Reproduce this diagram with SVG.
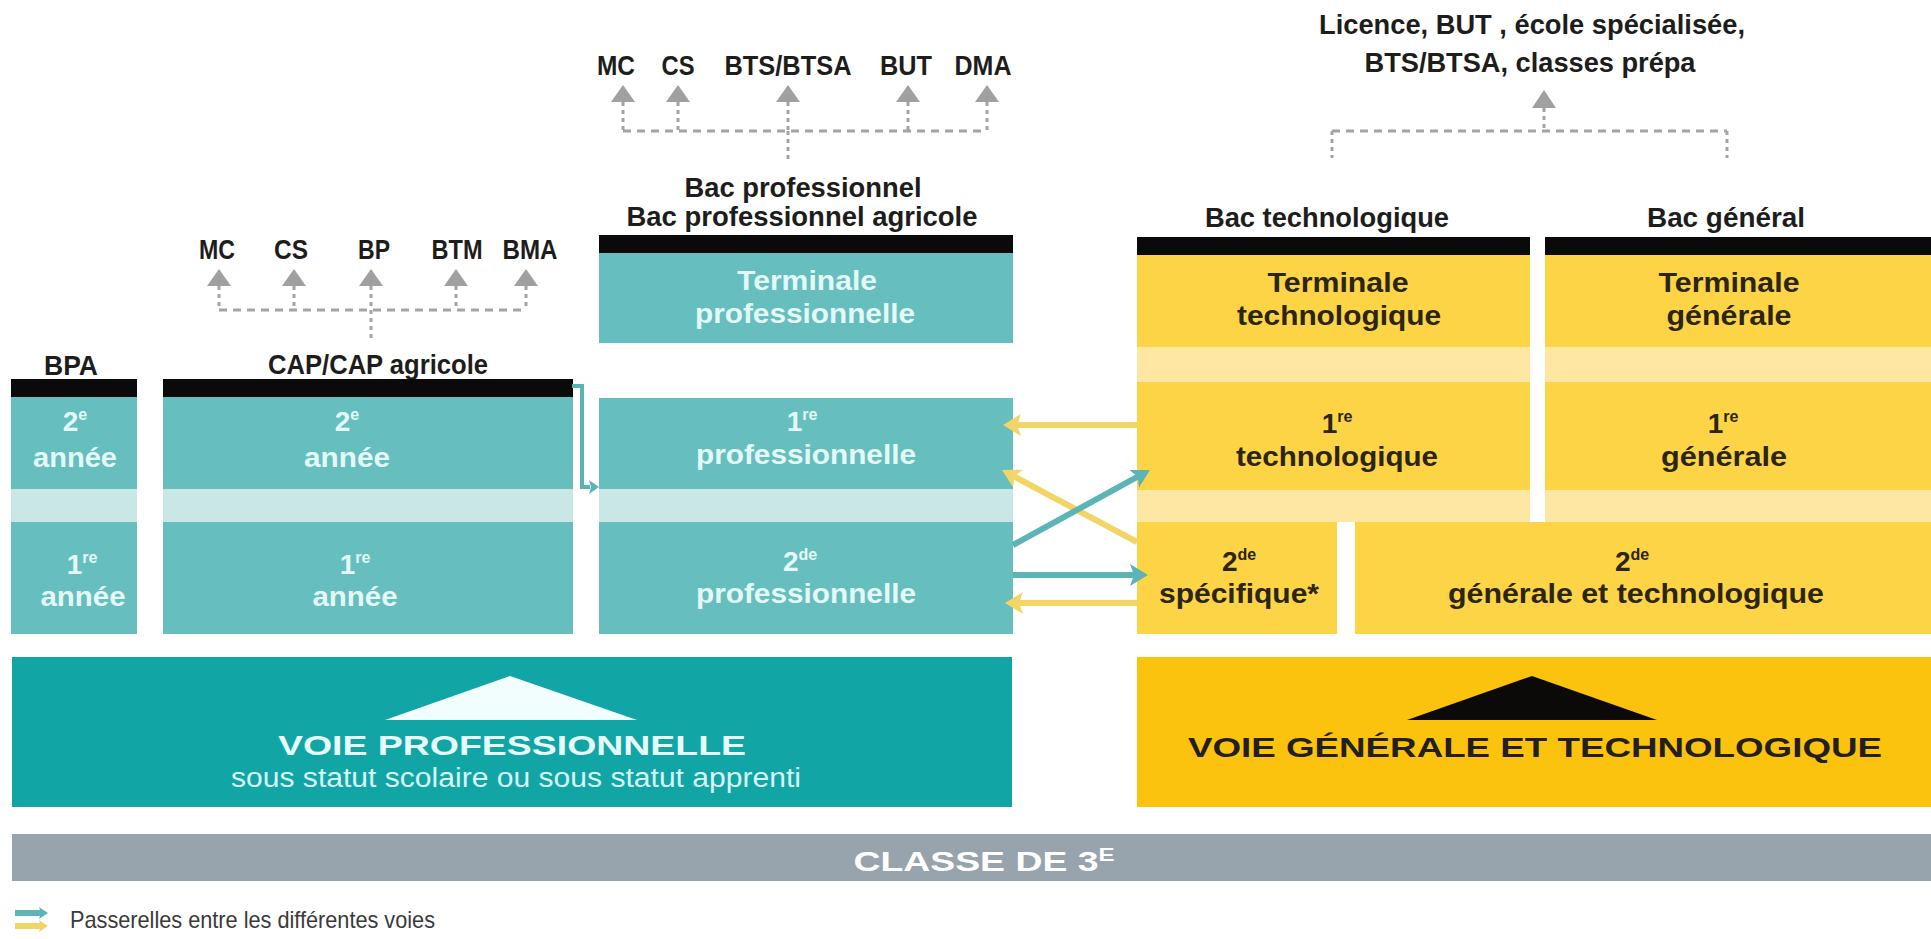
<svg xmlns="http://www.w3.org/2000/svg" width="1931" height="939" viewBox="0 0 1931 939">
<style>
.t{font-family:'Liberation Sans',Arial,sans-serif;font-weight:bold;font-size:28px;text-anchor:middle}
.dk{fill:#1d1d1b}
.lt{fill:#e4f9f7}
.yk{fill:#2b2514}
.sup{font-size:16px}
.teal{fill:#66bfbe}
.tstrip{fill:#c8e7e5}
.yel{fill:#fdd445}
.ystrip{fill:#fde7a3}
.bar{fill:#0a0a0a}
.dash{stroke:#a3a3a3;stroke-width:3;fill:none;stroke-dasharray:8 6}
.dot{stroke:#a3a3a3;stroke-width:3;fill:none;stroke-dasharray:4 4}
.tri{fill:#a0a0a0}
.ta{stroke:#5cb4b6;stroke-width:6;fill:none}
.ya{stroke:#f2d565;stroke-width:6;fill:none}
.tah{fill:#5cb4b6}
.yah{fill:#f2d565}
</style>

<!-- Voie professionnelle columns -->
<g id="bpa">
  <text class="t dk" x="71" y="375" textLength="54" lengthAdjust="spacingAndGlyphs">BPA</text>
  <rect class="bar" x="11" y="379" width="126" height="18"/>
  <rect class="teal" x="11" y="397" width="126" height="92"/>
  <rect class="tstrip" x="11" y="489" width="126" height="33"/>
  <rect class="teal" x="11" y="522" width="126" height="112"/>
  <text class="t lt" x="75" y="431">2<tspan class="sup" dy="-11">e</tspan></text>
  <text class="t lt" x="75" y="467" textLength="84" lengthAdjust="spacingAndGlyphs">année</text>
  <text class="t lt" x="82" y="574">1<tspan class="sup" dy="-11">re</tspan></text>
  <text class="t lt" x="83" y="606" textLength="85" lengthAdjust="spacingAndGlyphs">année</text>
</g>

<g id="cap">
  <text class="t dk" x="378" y="374" textLength="220" lengthAdjust="spacingAndGlyphs">CAP/CAP agricole</text>
  <rect class="bar" x="163" y="379" width="410" height="18"/>
  <rect class="teal" x="163" y="397" width="410" height="92"/>
  <rect class="tstrip" x="163" y="489" width="410" height="33"/>
  <rect class="teal" x="163" y="522" width="410" height="112"/>
  <text class="t lt" x="347" y="431">2<tspan class="sup" dy="-11">e</tspan></text>
  <text class="t lt" x="347" y="467" textLength="86" lengthAdjust="spacingAndGlyphs">année</text>
  <text class="t lt" x="355" y="574">1<tspan class="sup" dy="-11">re</tspan></text>
  <text class="t lt" x="355" y="606" textLength="85" lengthAdjust="spacingAndGlyphs">année</text>
</g>

<g id="cap-outcomes">
  <text class="t dk" x="217" y="259" textLength="36" lengthAdjust="spacingAndGlyphs">MC</text>
  <text class="t dk" x="291" y="259" textLength="34" lengthAdjust="spacingAndGlyphs">CS</text>
  <text class="t dk" x="374" y="259" textLength="32" lengthAdjust="spacingAndGlyphs">BP</text>
  <text class="t dk" x="457" y="259" textLength="51" lengthAdjust="spacingAndGlyphs">BTM</text>
  <text class="t dk" x="530" y="259" textLength="55" lengthAdjust="spacingAndGlyphs">BMA</text>
  <polygon class="tri" points="207,286 219,269 231,286"/>
  <polygon class="tri" points="282,286 294,269 306,286"/>
  <polygon class="tri" points="359,286 371,269 383,286"/>
  <polygon class="tri" points="444,286 456,269 468,286"/>
  <polygon class="tri" points="514,286 526,269 538,286"/>
</g>

<g id="bacpro">
  <text class="t dk" x="803" y="197" textLength="237" lengthAdjust="spacingAndGlyphs">Bac professionnel</text>
  <text class="t dk" x="802" y="226" textLength="351" lengthAdjust="spacingAndGlyphs">Bac professionnel agricole</text>
  <rect class="bar" x="599" y="235" width="414" height="18"/>
  <rect class="teal" x="599" y="253" width="414" height="90"/>
  <text class="t lt" x="807" y="290" textLength="140" lengthAdjust="spacingAndGlyphs">Terminale</text>
  <text class="t lt" x="805" y="323" textLength="220" lengthAdjust="spacingAndGlyphs">professionnelle</text>
</g>

<g id="premiere-pro">
  <rect class="teal" x="599" y="398" width="414" height="91"/>
  <text class="t lt" x="802" y="431">1<tspan class="sup" dy="-11">re</tspan></text>
  <text class="t lt" x="806" y="464" textLength="220" lengthAdjust="spacingAndGlyphs">professionnelle</text>
  <rect class="tstrip" x="599" y="489" width="414" height="33"/>
</g>

<g id="seconde-pro">
  <rect class="teal" x="599" y="522" width="414" height="112"/>
  <text class="t lt" x="800" y="571">2<tspan class="sup" dy="-11">de</tspan></text>
  <text class="t lt" x="806" y="603" textLength="220" lengthAdjust="spacingAndGlyphs">professionnelle</text>
</g>

<g id="bacpro-outcomes">
  <text class="t dk" x="616" y="75" textLength="38" lengthAdjust="spacingAndGlyphs">MC</text>
  <text class="t dk" x="678" y="75" textLength="33" lengthAdjust="spacingAndGlyphs">CS</text>
  <text class="t dk" x="788" y="75" textLength="127" lengthAdjust="spacingAndGlyphs">BTS/BTSA</text>
  <text class="t dk" x="906" y="75" textLength="52" lengthAdjust="spacingAndGlyphs">BUT</text>
  <text class="t dk" x="983" y="75" textLength="57" lengthAdjust="spacingAndGlyphs">DMA</text>
  <polygon class="tri" points="611,102 623,85 635,102"/>
  <polygon class="tri" points="666,102 678,85 690,102"/>
  <polygon class="tri" points="776,102 788,85 800,102"/>
  <polygon class="tri" points="896,102 908,85 920,102"/>
  <polygon class="tri" points="975,102 987,85 999,102"/>
</g>

<!-- Voie générale et technologique -->
<g id="bactech">
  <text class="t dk" x="1327" y="227" textLength="244" lengthAdjust="spacingAndGlyphs">Bac technologique</text>
  <rect class="bar" x="1137" y="237" width="393" height="18"/>
  <rect class="yel" x="1137" y="255" width="393" height="92"/>
  <text class="t yk" x="1338" y="292" textLength="141" lengthAdjust="spacingAndGlyphs">Terminale</text>
  <text class="t yk" x="1339" y="325" textLength="204" lengthAdjust="spacingAndGlyphs">technologique</text>
  <rect class="ystrip" x="1137" y="347" width="393" height="35"/>
</g>

<g id="premiere-tech">
  <rect class="yel" x="1137" y="382" width="393" height="108"/>
  <text class="t yk" x="1337" y="433">1<tspan class="sup" dy="-11">re</tspan></text>
  <text class="t yk" x="1337" y="466" textLength="202" lengthAdjust="spacingAndGlyphs">technologique</text>
  <rect class="ystrip" x="1137" y="490" width="393" height="32"/>
</g>

<g id="bacgen">
  <text class="t dk" x="1726" y="227" textLength="158" lengthAdjust="spacingAndGlyphs">Bac général</text>
  <rect class="bar" x="1545" y="237" width="386" height="18"/>
  <rect class="yel" x="1545" y="255" width="386" height="92"/>
  <text class="t yk" x="1729" y="292" textLength="141" lengthAdjust="spacingAndGlyphs">Terminale</text>
  <text class="t yk" x="1729" y="325" textLength="125" lengthAdjust="spacingAndGlyphs">générale</text>
  <rect class="ystrip" x="1545" y="347" width="386" height="35"/>
</g>

<g id="premiere-gen">
  <rect class="yel" x="1545" y="382" width="386" height="108"/>
  <text class="t yk" x="1723" y="433">1<tspan class="sup" dy="-11">re</tspan></text>
  <text class="t yk" x="1724" y="466" textLength="126" lengthAdjust="spacingAndGlyphs">générale</text>
  <rect class="ystrip" x="1545" y="490" width="386" height="32"/>
</g>

<g id="seconde-specifique">
  <rect class="yel" x="1137" y="522" width="200" height="112"/>
  <text class="t yk" x="1239" y="571">2<tspan class="sup" dy="-11">de</tspan></text>
  <text class="t yk" x="1239" y="603" textLength="160" lengthAdjust="spacingAndGlyphs">spécifique*</text>
</g>

<g id="seconde-gt">
  <rect class="yel" x="1355" y="522" width="576" height="112"/>
  <text class="t yk" x="1632" y="571">2<tspan class="sup" dy="-11">de</tspan></text>
  <text class="t yk" x="1636" y="603" textLength="376" lengthAdjust="spacingAndGlyphs">générale et technologique</text>
</g>

<g id="gt-outcomes">
  <text class="t dk" x="1532" y="34" textLength="426" lengthAdjust="spacingAndGlyphs">Licence, BUT , école spécialisée,</text>
  <text class="t dk" x="1530" y="72" textLength="331" lengthAdjust="spacingAndGlyphs">BTS/BTSA, classes prépa</text>
  <polygon class="tri" points="1532,108 1544,90 1556,108"/>
</g>

<!-- Bottom -->
<g id="voie-pro">
  <rect x="12" y="657" width="1000" height="150" fill="#12a5a5"/>
  <polygon points="385,720 510,676 637,720" fill="#f2fdfd"/>
  <text class="t" x="512" y="755" fill="#e6fbfb" font-size="26" textLength="468" lengthAdjust="spacingAndGlyphs">VOIE PROFESSIONNELLE</text>
  <text x="516" y="787" fill="#d8f6f6" font-family="'Liberation Sans',Arial,sans-serif" font-size="27" text-anchor="middle" textLength="570" lengthAdjust="spacingAndGlyphs">sous statut scolaire ou sous statut apprenti</text>
</g>

<g id="voie-gt">
  <rect x="1137" y="657" width="794" height="150" fill="#fbc30d"/>
  <polygon points="1407,720 1532,676 1657,720" fill="#0c0a08"/>
  <text class="t" x="1535" y="757" fill="#231f20" font-size="26" textLength="694" lengthAdjust="spacingAndGlyphs">VOIE GÉNÉRALE ET TECHNOLOGIQUE</text>
</g>

<g id="classe-3e">
  <rect x="12" y="834" width="1919" height="47" fill="#97a4ad"/>
  <text class="t" x="984" y="871" fill="#ffffff" font-size="30" textLength="261" lengthAdjust="spacingAndGlyphs">CLASSE DE 3<tspan font-size="18" dy="-10">E</tspan></text>
</g>

<g id="legend">
  <line class="ta" x1="15" y1="913" x2="41" y2="913" stroke-width="4"/>
  <polygon class="tah" points="48,913 39,907 41,913 39,919"/>
  <line class="ya" x1="15" y1="926" x2="41" y2="926" stroke-width="4"/>
  <polygon class="yah" points="48,926 39,920 41,926 39,932"/>
  <text x="70" y="928" fill="#3a3a3a" font-family="'Liberation Sans',Arial,sans-serif" font-size="24" textLength="365" lengthAdjust="spacingAndGlyphs">Passerelles entre les différentes voies</text>
</g>

<!-- Connectors -->
<g id="connectors">
  <!-- CAP outcomes -->
  <path class="dot" d="M219,286 V310 M294,286 V310 M456,286 V310 M526,286 V310 M371,286 V310"/>
  <path class="dash" d="M219,310 H526"/>
  <path class="dot" d="M371,310 V340"/>
  <!-- Bac pro outcomes -->
  <path class="dot" d="M623,102 V131 M678,102 V131 M788,102 V131 M908,102 V131 M987,102 V131"/>
  <path class="dash" d="M623,131 H987"/>
  <path class="dot" d="M788,131 V163"/>
  <!-- GT outcomes -->
  <path class="dot" d="M1544,108 V131"/>
  <path class="dash" d="M1332,131 H1727"/>
  <path class="dot" d="M1332,131 V158 M1727,131 V158"/>
  <!-- CAP to 1re pro -->
  <polyline points="572,386 582,386 582,487 590,487" fill="none" stroke="#5ab3b3" stroke-width="4"/>
  <polygon class="tah" points="599,487 589,480 591,487 589,494"/>
  <!-- passerelles -->
  <line class="ya" x1="1137" y1="425" x2="1017" y2="425"/>
  <polygon class="yah" points="1003,425 1021,414 1017,425 1021,436"/>
  <line class="ya" x1="1137" y1="542" x2="1014.3" y2="476.6"/>
  <polygon class="yah" points="1002,470 1022.6,469.7 1014.3,476.6 1013.2,487.3"/>
  <line class="ya" x1="1137" y1="603" x2="1019" y2="603"/>
  <polygon class="yah" points="1005,603 1023,592 1019,603 1023,614"/>
  <line class="ta" x1="1013" y1="545" x2="1137.7" y2="476.7"/>
  <polygon class="tah" points="1150,470 1139,487.4 1137.7,476.7 1129.4,469.9"/>
  <line class="ta" x1="1013" y1="575" x2="1134" y2="575"/>
  <polygon class="tah" points="1148,575 1130,564 1134,575 1130,586"/>
</g>
</svg>
